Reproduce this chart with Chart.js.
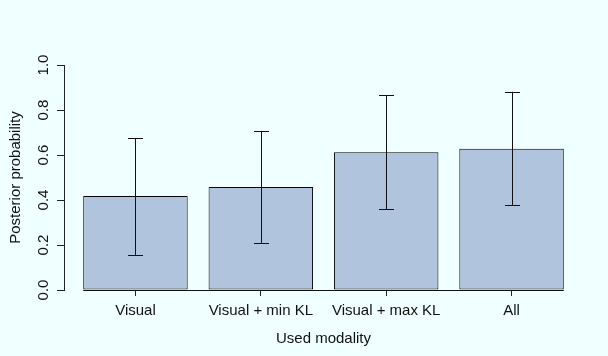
<!DOCTYPE html>
<html>
<head>
<meta charset="utf-8">
<title>Posterior probability by used modality</title>
<script src="https://cdn.jsdelivr.net/npm/chart.js@4"></script>
<style>
  html, body { margin: 0; padding: 0; background: #F0FFFF; }
  canvas { display: block; }
</style>
</head>
<body>
<canvas id="grafico" width="608" height="356"></canvas>
<script>
// datos
const categories = ['Visual', 'Visual + min KL', 'Visual + max KL', 'All'];
const posterior = [0.418, 0.458, 0.612, 0.628];
const errLow = [0.156, 0.209, 0.359, 0.376];
const errHigh = [0.674, 0.707, 0.867, 0.881];
const yTicks = [0, 0.2, 0.4, 0.6, 0.8, 1.0];

// disposicion tipo barplot de R: ancho 1, espacio 0.2, eje x extendido un 4%
const espacio = 0.2;
const centros = categories.map((c, i) => espacio + 0.5 + i * (1 + espacio));
const xMin = espacio, xMax = categories.length * (1 + espacio);
const ext = (xMax - xMin) * 0.04;

const fuente = { family: '"Liberation Sans", Arial, sans-serif', size: 15 };
const colorTexto = '#111';

const fondo = {
    id: 'fondo',
    beforeDraw(chart) {
        const ctx = chart.ctx;
        ctx.save();
        ctx.fillStyle = '#F0FFFF';
        ctx.fillRect(0, 0, chart.width, chart.height);
        ctx.restore();
    }
};

// linea base y barras de error
const extras = {
    id: 'extras',
    afterDatasetsDraw(chart) {
        const ctx = chart.ctx;
        const meta = chart.getDatasetMeta(0);
        const y = chart.scales.y;
        const primera = meta.data[0], ultima = meta.data[meta.data.length - 1];
        const y0 = Math.round(y.getPixelForValue(0)) + 0.5;
        ctx.save();
        ctx.strokeStyle = '#111';
        ctx.lineWidth = 1;
        ctx.beginPath();
        ctx.moveTo(primera.x - primera.width / 2, y0);
        ctx.lineTo(ultima.x + ultima.width / 2, y0);
        ctx.stroke();

        meta.data.forEach((barra, i) => {
            const x = Math.round(barra.x) + 0.5;
            const yA = y.getPixelForValue(errHigh[i]);
            const yB = y.getPixelForValue(errLow[i]);
            ctx.beginPath();
            ctx.moveTo(x, yA);
            ctx.lineTo(x, yB);
            ctx.moveTo(x - 7.5, Math.round(yA) + 0.5);
            ctx.lineTo(x + 7.5, Math.round(yA) + 0.5);
            ctx.moveTo(x - 7.5, Math.round(yB) + 0.5);
            ctx.lineTo(x + 7.5, Math.round(yB) + 0.5);
            ctx.stroke();
        });
        ctx.restore();
    }
};

new Chart(document.getElementById('grafico'), {
    type: 'bar',
    data: {
        datasets: [{
            data: centros.map((x, i) => ({ x: x, y: posterior[i] })),
            backgroundColor: '#B0C4DE',
            borderColor: '#000',
            borderWidth: 1,
            borderSkipped: false,
            categoryPercentage: 1,
            barPercentage: 1 / (1 + espacio)
        }]
    },
    options: {
        responsive: false,
        animation: false,
        devicePixelRatio: 1,
        layout: { padding: { left: 0, right: 25, top: 65, bottom: 0 } },
        plugins: { legend: { display: false }, tooltip: { enabled: false } },
        scales: {
            x: {
                type: 'linear',
                offset: false,
                min: xMin - ext,
                max: xMax + ext,
                afterBuildTicks: scale => { scale.ticks = centros.map(v => ({ value: v })); },
                afterFit: scale => { scale.height = 66; },
                ticks: {
                    autoSkip: false,
                    maxRotation: 0,
                    padding: 6,
                    color: colorTexto,
                    font: fuente,
                    callback: (v, i) => categories[i]
                },
                grid: { offset: false, drawOnChartArea: false, drawTicks: true, tickLength: 6, color: '#222' },
                border: { display: false },
                title: {
                    display: true,
                    text: 'Used modality',
                    color: colorTexto,
                    font: fuente,
                    padding: { top: 0, bottom: 8 }
                }
            },
            y: {
                min: 0,
                max: 1,
                afterBuildTicks: scale => { scale.ticks = yTicks.map(v => ({ value: v })); },
                afterFit: scale => { scale.width = 64; },
                ticks: {
                    minRotation: 90,
                    maxRotation: 90,
                    crossAlign: 'center',
                    padding: 3,
                    color: colorTexto,
                    font: fuente,
                    callback: v => v.toFixed(1)
                },
                grid: { drawOnChartArea: false, drawTicks: true, tickLength: 7, color: '#222' },
                border: { display: true, color: '#222', width: 1 },
                title: {
                    display: true,
                    text: 'Posterior probability',
                    color: colorTexto,
                    font: fuente,
                    padding: { top: 7, bottom: 0 }
                }
            }
        }
    },
    plugins: [fondo, extras]
});
</script>
</body>
</html>
